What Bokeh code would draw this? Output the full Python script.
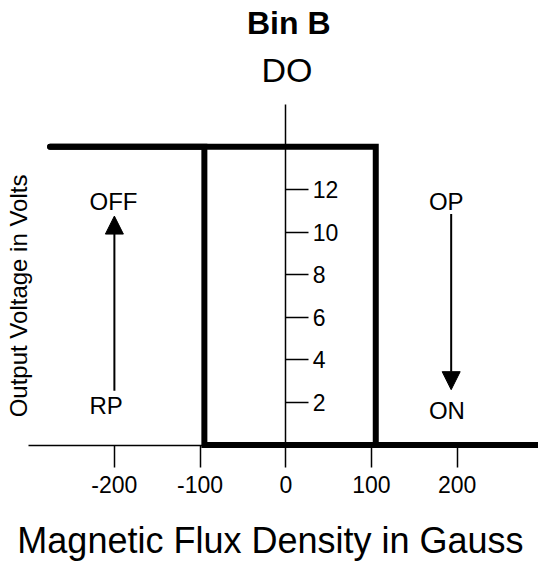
import math
from bokeh.plotting import figure
from bokeh.models import (LinearAxis, FixedTicker, Range1d, Label, Arrow,
                          NormalHead, ColumnDataSource)
from bokeh.core.properties import value
from bokeh.embed import file_html
from bokeh.resources import INLINE

# ---- data ----
# hysteresis curve: output voltage vs magnetic flux density
rising_flux = [-275, 105, 105, 300]
rising_volts = [14, 14, 0, 0]
falling_flux = [300, -95, -95, -275]
falling_volts = [0, 0, 14, 14]

x_ticks = [-200, -100, 0, 100, 200]
x_tick_labels = ["-200", "-100", "0", "100", "200"]
y_ticks = [2, 4, 6, 8, 10, 12]
y_tick_labels = ["2", "4", "6", "8", "10", "12"]

state_labels = ["OFF", "RP", "OP", "ON"]
state_flux = [-229, -229, 167, 167]
state_volts = [11.42, 1.87, 11.42, 1.62]

arrow_flux = [-200, 193]
arrow_from_volts = [2.55, 10.85]
arrow_to_volts = [10.75, 2.6]

FONT = "Liberation Sans"

p = figure(width=538, height=563,
           x_range=Range1d(-332.9, 294.9), y_range=Range1d(-5.56, 20.87),
           output_backend="svg", toolbar_location=None, tools="",
           x_axis_location=None, y_axis_location=None, min_border=0,
           outline_line_color=None)
p.grid.visible = False

# hysteresis loop
p.multi_line(xs=[rising_flux, falling_flux], ys=[rising_volts, falling_volts],
             line_color="black", line_width=6, line_cap="round", line_join="miter")

# x axis through y = 0
xaxis = LinearAxis(fixed_location=0, bounds=(-300, 300),
                   ticker=FixedTicker(ticks=x_ticks),
                   major_label_overrides=dict(zip(x_ticks, x_tick_labels)),
                   major_tick_out=22, major_tick_in=0,
                   minor_tick_out=0, minor_tick_in=0,
                   axis_line_color="black", axis_line_width=1.5,
                   major_tick_line_color="black", major_tick_line_width=1.5,
                   major_label_text_font=FONT, major_label_text_font_size="23px",
                   major_label_text_color="black", major_label_standoff=9)
p.add_layout(xaxis, "below")

# y axis through x = 0, ticks and labels to the right
yaxis = LinearAxis(fixed_location=0, bounds=(0, 16),
                   ticker=FixedTicker(ticks=y_ticks),
                   major_label_overrides=dict(zip(y_ticks, y_tick_labels)),
                   major_tick_out=23, major_tick_in=0,
                   minor_tick_out=0, minor_tick_in=0,
                   axis_line_color="black", axis_line_width=1.5,
                   major_tick_line_color="black", major_tick_line_width=1.5,
                   major_label_text_font=FONT, major_label_text_font_size="23px",
                   major_label_text_color="black", major_label_standoff=4)
p.add_layout(yaxis, "right")

# state labels
p.text(x=state_flux, y=state_volts, text=state_labels,
       text_font=value(FONT), text_font_size=value("24px"),
       text_align="left", text_baseline="alphabetic", text_color="black")

# arrows
arrow_src = ColumnDataSource(dict(x=arrow_flux, y0=arrow_from_volts, y1=arrow_to_volts))
p.add_layout(Arrow(source=arrow_src, x_start="x", y_start="y0", x_end="x", y_end="y1",
                   line_color="black", line_width=2,
                   end=NormalHead(size=18, fill_color="black", line_color="black", line_width=1)))

# titles and axis titles
p.add_layout(Label(x=3.5, y=19.83, text="Bin B", text_font=FONT, text_font_size="32px",
                   text_font_style="bold", text_align="center", text_baseline="alphabetic",
                   text_color="black"))
p.add_layout(Label(x=1.4, y=17.59, text="DO", text_font=FONT, text_font_size="34px",
                   text_align="center", text_baseline="alphabetic", text_color="black"))
p.add_layout(Label(x=-312.0, y=7.0, angle=math.pi / 2, text="Output Voltage in Volts",
                   text_font=FONT, text_font_size="24px", text_align="center",
                   text_baseline="alphabetic", text_color="black"))
p.add_layout(Label(x=-17.9, y=-4.5, text="Magnetic Flux Density in Gauss",
                   text_font=FONT, text_font_size="36px", text_align="center",
                   text_baseline="alphabetic", text_color="black"))

open("out.html", "w").write(file_html(p, INLINE))
